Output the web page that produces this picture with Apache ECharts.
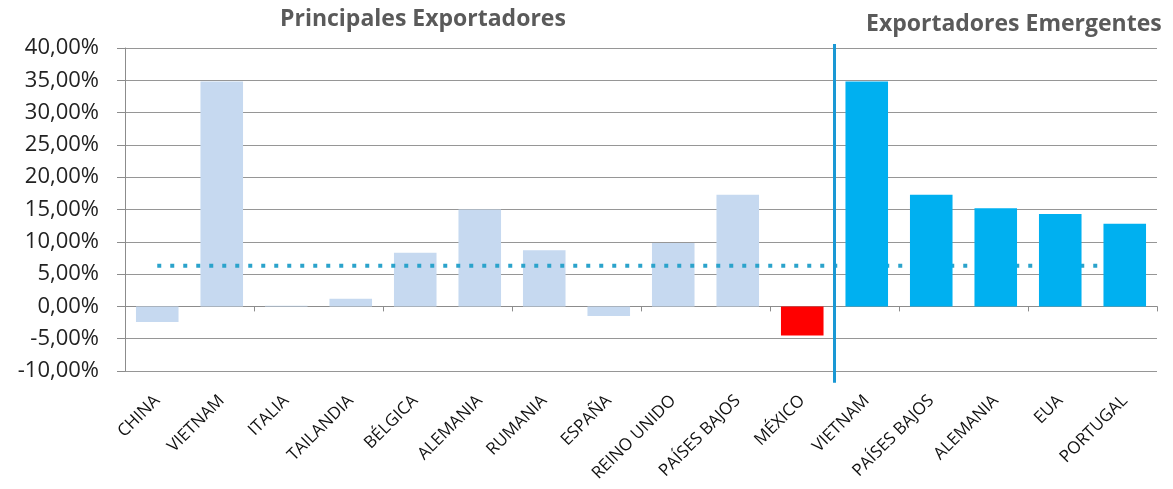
<!DOCTYPE html>
<html>
<head>
<meta charset="utf-8">
<script src="https://cdn.jsdelivr.net/npm/echarts@6/dist/echarts.min.js"></script>
<style>
html,body{margin:0;padding:0;background:#fff;}
#chart{width:1173px;height:489px;}
</style>
</head>
<body>
<div id="chart"></div>
<script>
// ---- data ----
const principalCategories = ['CHINA','VIETNAM','ITALIA','TAILANDIA','BÉLGICA','ALEMANIA','RUMANIA','ESPAÑA','REINO UNIDO','PAÍSES BAJOS','MÉXICO'];
const principalValues = [-2.4, 34.8, 0.1, 1.2, 8.3, 15.0, 8.7, -1.5, 9.8, 17.3, -4.5];
const emergentCategories = ['VIETNAM','PAÍSES BAJOS','ALEMANIA','EUA','PORTUGAL'];
const emergentValues = [34.8, 17.3, 15.2, 14.3, 12.8];
const averageValue = 6.3;
const highlightCategory = 'MÉXICO';
const separatorIndex = 11;
const separatorSpan = [40.6, -11.8];
const yTicks = [-10, -5, 0, 5, 10, 15, 20, 25, 30, 35, 40];
const groupTitles = ['Principales Exportadores', 'Exportadores Emergentes'];

// ---- build ----
const categories = principalCategories.concat(emergentCategories);
const n = categories.length;
const principalSeries = categories.map((c, i) => i < principalValues.length ? principalValues[i] : null);
const emergentSeries = categories.map((c, i) => i >= principalValues.length ? emergentValues[i - principalValues.length] : null);
const averageSeries = categories.map(() => averageValue);

const FONT = 'Open Sans';
const chart = echarts.init(document.getElementById('chart'), null, {renderer: 'canvas'});
chart.setOption({
  backgroundColor: '#ffffff',
  animation: false,
  title: [
    {text: groupTitles[0], left: 275, top: 3,
     textStyle: {fontFamily: FONT, fontSize: 23, fontWeight: 'bold', color: '#5a5a5a'}},
    {text: groupTitles[1], left: 861, top: 8,
     textStyle: {fontFamily: FONT, fontSize: 23, fontWeight: 'bold', color: '#5a5a5a'}}
  ],
  grid: {left: 125, right: 16, top: 48, bottom: 118, containLabel: false},
  xAxis: [
    {
      type: 'category', data: categories, position: 'bottom',
      axisLine: {show: false, onZero: false}, axisTick: {show: false},
      axisLabel: {rotate: 45, interval: 0, margin: 27, fontFamily: FONT, fontSize: 17, color: '#111'}
    },
    {
      type: 'category', data: categories, position: 'bottom',
      axisLine: {show: true, onZero: true, lineStyle: {color: '#8c8c8c', width: 1}},
      axisTick: {show: true, length: 5, lineStyle: {color: '#8c8c8c'}},
      axisLabel: {show: false}
    },
    {type: 'value', min: 0, max: n, show: false}
  ],
  yAxis: {
    type: 'value', min: yTicks[0], max: yTicks[yTicks.length - 1], interval: 5,
    axisLine: {show: true, lineStyle: {color: '#8c8c8c'}},
    axisTick: {show: true, length: 8, lineStyle: {color: '#8c8c8c'}},
    splitLine: {show: true, lineStyle: {color: '#969696', width: 1}},
    axisLabel: {
      margin: 26, fontFamily: FONT, fontSize: 22, color: '#222',
      formatter: v => v.toFixed(2).replace('.', ',') + '%'
    }
  },
  series: [
    {
      type: 'bar', name: 'principales', data: principalSeries, xAxisIndex: 0,
      barWidth: '66%', barGap: '-100%', z: 2,
      itemStyle: {color: p => p.name === highlightCategory && p.dataIndex === principalValues.length - 1 ? '#ff0000' : '#c6d9f0'}
    },
    {
      type: 'line', name: 'promedio', data: averageSeries, xAxisIndex: 0, z: 3,
      symbol: 'none', lineStyle: {color: '#2ba3cb', width: 4, type: [4, 9]}
    },
    {
      type: 'bar', name: 'emergentes', data: emergentSeries, xAxisIndex: 0,
      barWidth: '66%', barGap: '-100%', z: 4,
      itemStyle: {color: '#00b0f0'}
    },
    {
      type: 'line', name: 'separador', xAxisIndex: 2, clip: false, z: 5,
      data: [[separatorIndex, separatorSpan[0]], [separatorIndex, separatorSpan[1]]],
      symbol: 'none', lineStyle: {color: '#1a98d4', width: 3}
    }
  ]
});
</script>
</body>
</html>
